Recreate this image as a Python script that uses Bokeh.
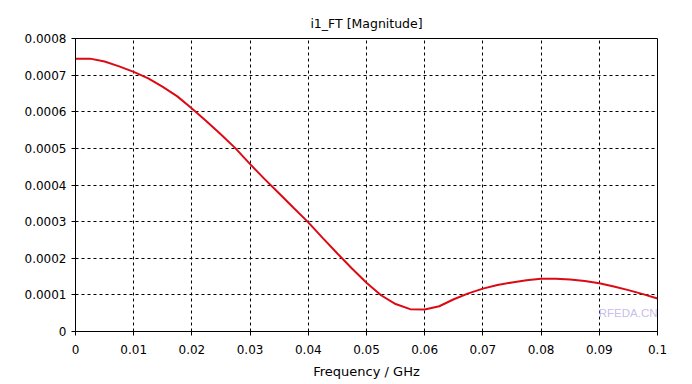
from bokeh.plotting import figure
from bokeh.models import FixedTicker, Label
from bokeh.embed import file_html
from bokeh.resources import INLINE

# ---- data ----
freq_ghz = [0.0, 0.0025, 0.005, 0.0075, 0.01, 0.0125, 0.015, 0.0175, 0.02, 0.0225,
            0.025, 0.0275, 0.03, 0.0325, 0.035, 0.0375, 0.04, 0.0425, 0.045, 0.0475,
            0.05, 0.0525, 0.055, 0.0575, 0.06, 0.0625, 0.065, 0.0675, 0.07, 0.0725,
            0.075, 0.0775, 0.08, 0.0825, 0.085, 0.0875, 0.09, 0.0925, 0.095, 0.0975, 0.1]
magnitude = [7.45e-4, 7.45e-4, 7.37e-4, 7.24e-4, 7.09e-4, 6.91e-4, 6.68e-4, 6.42e-4, 6.09e-4, 5.74e-4,
             5.38e-4, 5.00e-4, 4.57e-4, 4.16e-4, 3.77e-4, 3.37e-4, 2.98e-4, 2.55e-4, 2.13e-4, 1.72e-4,
             1.33e-4, 0.99e-4, 0.75e-4, 0.61e-4, 0.60e-4, 0.69e-4, 0.88e-4, 1.04e-4, 1.17e-4, 1.27e-4,
             1.34e-4, 1.40e-4, 1.44e-4, 1.44e-4, 1.42e-4, 1.38e-4, 1.32e-4, 1.23e-4, 1.13e-4, 1.02e-4, 0.90e-4]

x_ticks = [0.0, 0.01, 0.02, 0.03, 0.04, 0.05, 0.06, 0.07, 0.08, 0.09, 0.1]
x_tick_labels = ["0", "0.01", "0.02", "0.03", "0.04", "0.05", "0.06", "0.07", "0.08", "0.09", "0.1"]
y_ticks = [0.0, 0.0001, 0.0002, 0.0003, 0.0004, 0.0005, 0.0006, 0.0007, 0.0008]
y_tick_labels = ["0", "0.0001", "0.0002", "0.0003", "0.0004", "0.0005", "0.0006", "0.0007", "0.0008"]

title_text = "i1_FT [Magnitude]"
x_label = "Frequency / GHz"
watermark_site = "RFEDA.CN"

FONT = "DejaVu Sans"

p = figure(frame_width=582, frame_height=293,
           x_range=(0, 0.1), y_range=(0, 0.0008),
           output_backend="svg", toolbar_location=None,
           min_border_left=75, min_border_right=28,
           min_border_top=38, min_border_bottom=45,
           title=title_text)

p.title.align = "center"
p.title.text_font = FONT
p.title.text_font_size = "12.5px"
p.title.text_font_style = "normal"
p.title.text_color = "black"
p.title.standoff = 16

p.background_fill_color = "white"
p.border_fill_color = "white"
p.outline_line_color = "black"
p.outline_line_width = 1
p.outline_line_alpha = 1

for ax in (p.xaxis[0], p.yaxis[0]):
    ax.axis_line_color = "black"
    ax.major_tick_line_color = "black"
    ax.major_tick_out = 4
    ax.major_tick_in = 0
    ax.minor_tick_line_color = None
    ax.major_label_text_font = FONT
    ax.major_label_text_font_size = "12px"
    ax.major_label_text_color = "black"

p.xaxis.ticker = FixedTicker(ticks=x_ticks)
p.xaxis.major_label_overrides = {t: l for t, l in zip(x_ticks, x_tick_labels)}
p.xaxis.major_label_standoff = 9
p.xaxis.axis_label = x_label
p.xaxis.axis_label_text_font = FONT
p.xaxis.axis_label_text_font_size = "13px"
p.xaxis.axis_label_text_font_style = "normal"
p.xaxis.axis_label_text_color = "black"
p.xaxis.axis_label_standoff = 7

p.yaxis.ticker = FixedTicker(ticks=y_ticks)
p.yaxis.major_label_overrides = {t: l for t, l in zip(y_ticks, y_tick_labels)}
p.yaxis.major_label_standoff = 5

p.grid.grid_line_color = "black"
p.grid.grid_line_dash = "3 3"
p.grid.grid_line_width = 1

p.line(freq_ghz, magnitude, line_color="#dc0a14", line_width=2)

# faint site watermark inside the plot area
p.add_layout(Label(x=0.0899, y=0.0000495, text=watermark_site, text_font="Liberation Sans",
                   text_font_size="11.5px", text_color="#c2b4e6", text_alpha=0.9,
                   text_baseline="middle", text_align="left"))

open("out.html", "w").write(file_html(p, INLINE))
